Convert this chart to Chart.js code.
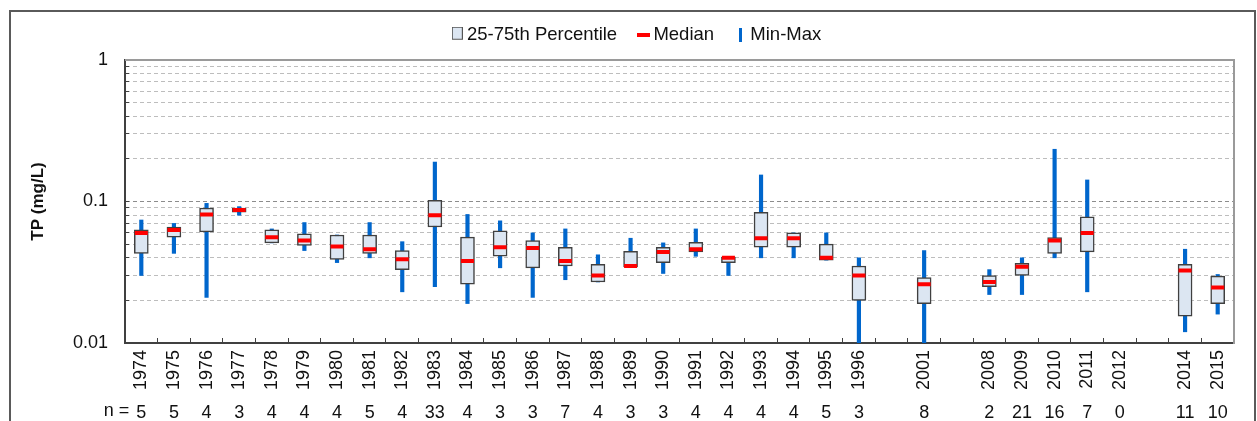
<!DOCTYPE html>
<html><head><meta charset="utf-8">
<script src="https://cdn.jsdelivr.net/npm/chart.js@4"></script>
<style>html,body{margin:0;padding:0;background:#fff;}</style>
</head><body>
<canvas id="c" width="1257" height="421"></canvas>
<script>
// ---- data ----
const years = ['1974','1975','1976','1977','1978','1979','1980','1981','1982','1983','1984','1985','1986','1987','1988','1989','1990','1991','1992','1993','1994','1995','1996','','2001','','2008','2009','2010','2011','2012','','2014','2015'];
const nCounts = ['5','5','4','3','4','4','4','5','4','33','4','3','3','7','4','3','3','4','4','4','4','5','3','','8','','2','21','16','7','0','','11','10'];
const minVals = [0.030,0.043,0.021,0.080,0.051,0.045,0.037,0.040,0.023,0.025,0.019,0.034,0.021,0.028,0.027,0.0345,0.031,0.041,0.030,0.040,0.040,0.0385,0.009,null,0.009,null,0.022,0.022,0.040,0.023,null,null,0.012,0.016];
const q1Vals  = [0.043,0.056,0.061,0.084,0.051,0.049,0.039,0.043,0.033,0.066,0.026,0.041,0.034,0.035,0.027,0.0345,0.037,0.044,0.037,0.0475,0.0475,0.0385,0.020,null,0.019,null,0.025,0.030,0.043,0.044,null,null,0.0155,0.019];
const medVals = [0.060,0.063,0.081,0.087,0.056,0.053,0.048,0.046,0.039,0.080,0.038,0.0475,0.047,0.038,0.030,0.035,0.044,0.046,0.040,0.055,0.055,0.040,0.030,null,0.026,null,0.027,0.0346,0.053,0.060,null,null,0.0325,0.0247];
const q3Vals  = [0.063,0.066,0.090,0.090,0.063,0.059,0.058,0.058,0.045,0.102,0.056,0.062,0.053,0.0475,0.036,0.0445,0.0475,0.0515,0.0405,0.084,0.060,0.050,0.035,null,0.029,null,0.030,0.0366,0.0555,0.078,null,null,0.036,0.0297];
const maxVals = [0.074,0.070,0.097,0.092,0.064,0.071,0.058,0.071,0.052,0.190,0.081,0.073,0.060,0.064,0.042,0.055,0.051,0.064,0.0405,0.154,0.060,0.060,0.040,null,0.045,null,0.033,0.040,0.234,0.142,null,null,0.046,0.0305];
const yTickValues = [0.01,0.02,0.03,0.04,0.05,0.06,0.07,0.08,0.09,0.1,0.2,0.3,0.4,0.5,0.6,0.7,0.8,0.9,1];
const yLabelValues = [0.01, 0.1, 1];
const yLabelTexts = ['0.01', '0.1', '1'];
const legendTexts = ['25-75th Percentile', 'Median', 'Min-Max'];

const FONT = "'Liberation Sans', Arial, sans-serif";
Chart.defaults.font.family = FONT;
Chart.defaults.color = '#111';

const boxRanges = years.map((_, i) => q1Vals[i] == null ? null : [q1Vals[i], q3Vals[i]]);
const whiskRanges = years.map((_, i) => minVals[i] == null ? null : [minVals[i], maxVals[i]]);

function icon(w, h, draw) {
  const c = document.createElement('canvas'); c.width = w; c.height = h;
  draw(c.getContext('2d')); return c;
}
const boxIcon = icon(11, 17, g => { g.fillStyle = '#dce6f2'; g.fillRect(0.5, 0.5, 10, 12); g.strokeStyle = '#555'; g.lineWidth = 1; g.strokeRect(0.5, 0.5, 10, 12); });
const medIcon = icon(13, 4, g => { g.fillStyle = '#ff0000'; g.fillRect(0, 0, 13, 4); });
const mmIcon = icon(3, 14, g => { g.fillStyle = '#0066cc'; g.fillRect(0, 0, 3, 14); });
const legendIcons = [boxIcon, medIcon, mmIcon];

const decor = {
  id: 'decor',
  beforeLayout(chart) {
    const lg = chart.legend;
    if (lg && !lg._patched) {
      const f = lg.fit;
      lg.fit = function () { f.call(this); this.height = 60; };
      lg._patched = true;
    }
  },
  beforeDraw(chart) {
    const ctx = chart.ctx;
    ctx.save();
    ctx.strokeStyle = '#5a5a5a'; ctx.lineWidth = 2;
    ctx.strokeRect(10, 11, 1245, 440);
    ctx.restore();
  },
  afterDraw(chart) {
    const ctx = chart.ctx, a = chart.chartArea;
    ctx.save();
    ctx.strokeStyle = '#9a9a9a'; ctx.lineWidth = 2;
    ctx.beginPath(); ctx.moveTo(a.left, a.top); ctx.lineTo(a.right + 1, a.top); ctx.stroke();
    const xs = chart.scales.xn;
    ctx.fillStyle = '#111';
    ctx.font = '18px ' + FONT;
    ctx.textAlign = 'right'; ctx.textBaseline = 'middle';
    ctx.fillText('n =', xs.getPixelForValue(0) - 12, xs.top + 1 + 10.8);
    ctx.restore();
  }
};

new Chart(document.getElementById('c'), {
  type: 'bar',
  data: {
    labels: years,
    datasets: [
      { type: 'line', label: 'Median', data: medVals, showLine: false,
        pointStyle: 'line', pointRadius: 6.5, pointBorderWidth: 4,
        pointBorderColor: '#ff0000', pointBackgroundColor: '#ff0000', yAxisID: 'y', xAxisID: 'x' },
      { label: '25-75th Percentile', data: boxRanges, backgroundColor: '#dce6f2',
        borderColor: '#404040', borderWidth: 1.5, borderSkipped: false,
        barThickness: 14, grouped: false, yAxisID: 'y', xAxisID: 'x' },
      { label: 'Min-Max', data: whiskRanges, backgroundColor: '#0066cc',
        borderWidth: 0, barThickness: 3.5, grouped: false, yAxisID: 'y', xAxisID: 'x' }
    ]
  },
  options: {
    responsive: false,
    animation: false,
    devicePixelRatio: 1,
    events: [],
    layout: { padding: { left: 21, right: 0, top: 0, bottom: 0 } },
    plugins: {
      tooltip: { enabled: false },
      legend: {
        position: 'top', align: 'center',
        labels: {
          usePointStyle: true, pointStyleWidth: 1, padding: 26,
          font: { size: 18.5 }, color: '#111',
          generateLabels: () => legendTexts.map((t, i) => ({
            text: t, pointStyle: legendIcons[i], hidden: false, datasetIndex: i,
            fontColor: '#111', lineWidth: 0, strokeStyle: 'rgba(0,0,0,0)', fillStyle: 'rgba(0,0,0,0)'
          }))
        }
      }
    },
    scales: {
      x: {
        type: 'category', position: 'bottom', offset: true, weight: 0,
        grid: { offset: true, drawOnChartArea: false, drawTicks: true, tickLength: -5, tickColor: '#404040', tickWidth: 1 },
        border: { display: true, color: '#404040', width: 2 },
        ticks: { autoSkip: false, minRotation: 90, maxRotation: 90, padding: 12, font: { size: 18 }, color: '#111' },
        afterFit: s => { s.height = 56; }
      },
      xn: {
        type: 'category', labels: nCounts, position: 'bottom', offset: true, weight: 1,
        grid: { display: false }, border: { display: false },
        ticks: { autoSkip: false, minRotation: 0, maxRotation: 0, padding: -5, font: { size: 18 }, color: '#111' },
        afterFit: s => { s.height = 22; }
      },
      y: {
        type: 'logarithmic', position: 'left', min: 0.01, max: 1,
        afterBuildTicks: s => { s.ticks = yTickValues.map(v => ({ value: v })); },
        grid: {
          color: c => (c.tick && c.tick.value === 0.1) ? '#8c8c8c' : '#bdbdbd',
          lineWidth: 1, drawTicks: true, tickLength: -4,
          tickColor: '#404040', tickWidth: 1, tickBorderDash: []
        },
        border: { display: true, color: '#404040', width: 2, dash: [4, 3] },
        ticks: {
          autoSkip: false, padding: 21, font: { size: 18 }, color: '#111',
          callback: v => { const k = yLabelValues.indexOf(v); return k >= 0 ? yLabelTexts[k] : ''; }
        },
        title: { display: true, text: 'TP (mg/L)', font: { size: 17, weight: 'bold' }, color: '#111', padding: { top: 7, bottom: 0 } },
        afterFit: s => { s.width = 104; }
      },
      y2: {
        type: 'linear', position: 'right',
        grid: { display: false }, ticks: { display: false },
        border: { display: true, color: '#9a9a9a', width: 2 },
        afterFit: s => { s.width = 23; }
      }
    }
  },
  plugins: [decor]
});
</script>
</body></html>
